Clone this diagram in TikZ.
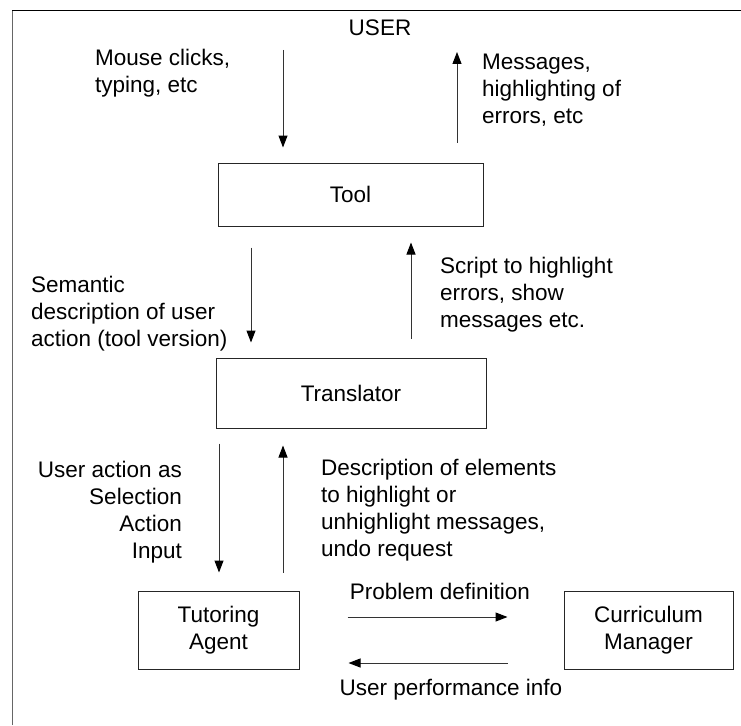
\documentclass[tikz,border=0pt]{standalone}
\usepackage{fontspec}
\setmainfont{Liberation Sans}
\usetikzlibrary{arrows.meta}
\begin{document}
\begin{tikzpicture}[x=1pt,y=-1pt,
  txt/.style={font=\fontsize{22.5}{27}\selectfont, inner sep=0pt},
  boxnode/.style={draw=black!85, line width=1pt, font=\fontsize{22.5}{27}\selectfont, align=center, inner sep=0pt},
  arr/.style={draw=black!80, line width=1pt, -{Triangle[length=12pt,width=9pt,fill=black,color=black]}}]
\useasboundingbox (0,0) rectangle (741,725);
% frame
\draw[black!60, line width=1pt] (12.5,725) -- (12.5,11);
\draw[black, line width=1pt] (12,11) -- (741,11);
% boxes
\node[boxnode, minimum width=265pt, minimum height=63pt] (tool) at (350.5,194.5) {Tool};
\node[boxnode, minimum width=270pt, minimum height=70pt] (trans) at (351,393) {Translator};
\node[boxnode, minimum width=161pt, minimum height=78pt] (tutor) at (218.5,630) {Tutoring\\Agent};
\node[boxnode, minimum width=169pt, minimum height=78pt] (curr) at (648.5,630) {Curriculum\\Manager};
% texts
\node[txt, anchor=base] (user) at (380,36) {USER};
\node[txt, anchor=north west, align=left] (tmouse) at (95,48.9) {Mouse clicks,\\typing, etc};
\node[txt, anchor=north west, align=left] (tmsg) at (482,53.9) {Messages,\\highlighting of\\errors, etc};
\node[txt, anchor=north west, align=left] (tsem) at (31,275.9) {Semantic\\description of user\\action (tool version)};
\node[txt, anchor=north west, align=left] (tscript) at (440,256.9) {Script to highlight\\errors, show\\messages etc.};
\node[txt, anchor=north east, align=right] (tuser) at (182,460.9) {User action as\\Selection\\Action\\Input};
\node[txt, anchor=north west, align=left] (tdesc) at (321,458.9) {Description of elements\\to highlight or\\unhighlight messages,\\undo request};
\node[txt, anchor=base] (tprob) at (440,599) {Problem definition};
\node[txt, anchor=base] (tperf) at (451,695) {User performance info};
% free ends
\coordinate (mtop) at (283,50);
\coordinate (msgtop) at (457,52);
% connectors
\draw[arr, shorten >=15pt] (mtop) -- (tool.north -| mtop);
\draw[arr, shorten <=20pt] (tool.north -| msgtop) -- (msgtop);
\draw[arr, shorten <=21pt, shorten >=15pt] (tool.south -| 251,0) -- (trans.north -| 251,0);
\draw[arr, shorten <=19pt, shorten >=16pt] (trans.north -| 411,0) -- (tool.south -| 411,0);
\draw[arr, shorten <=15pt, shorten >=18pt] (trans.south -| 219,0) -- (tutor.north -| 219,0);
\draw[arr, shorten <=18pt, shorten >=17pt] (tutor.north -| 283,0) -- (trans.south -| 283,0);
\draw[arr, shorten <=48pt, shorten >=56pt] (tutor.east |- 0,617) -- (curr.west |- 0,617);
\draw[arr, shorten <=56pt, shorten >=49pt] (curr.west |- 0,663) -- (tutor.east |- 0,663);
\end{tikzpicture}
\end{document}
